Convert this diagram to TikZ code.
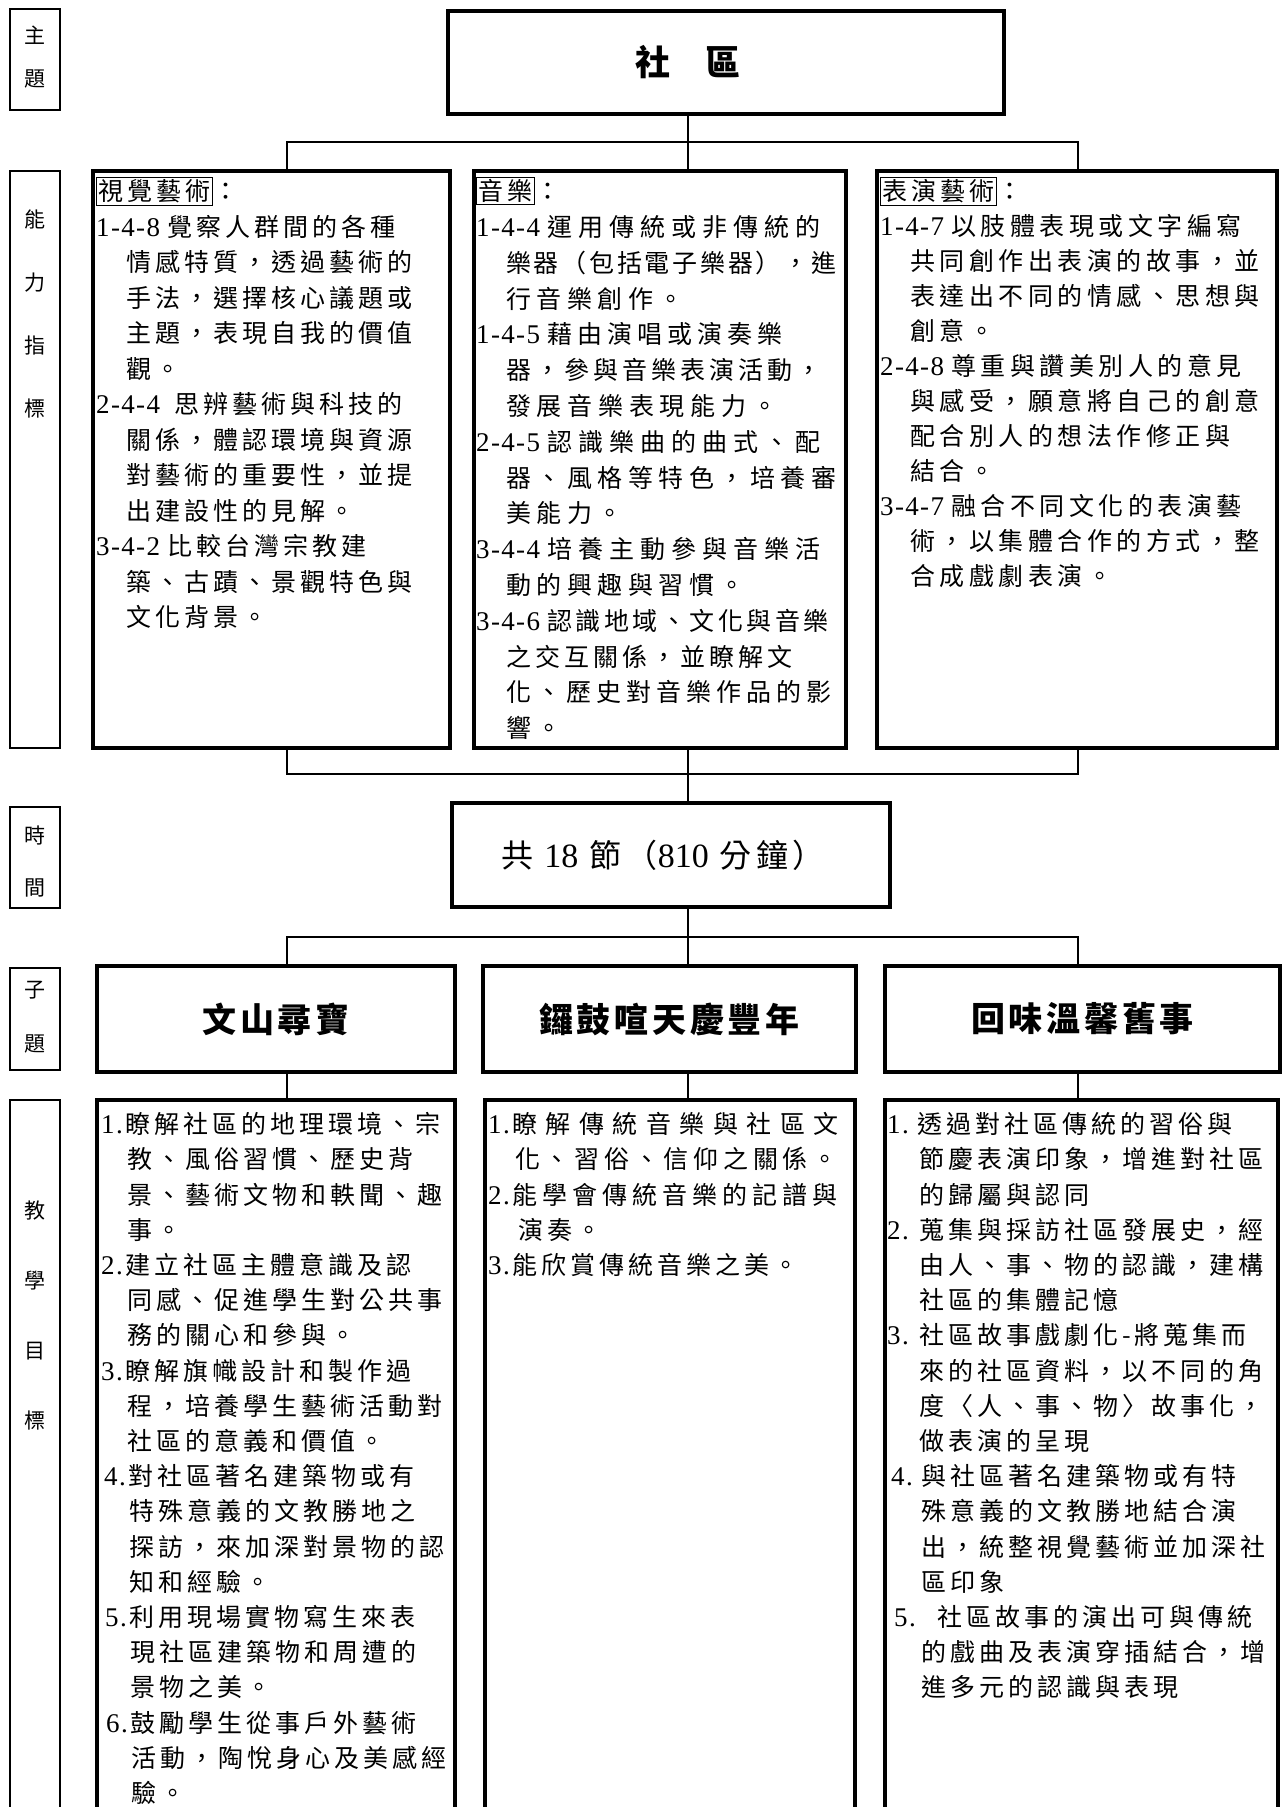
\documentclass[tikz,border=0pt]{standalone}
\usepackage{fontspec}
\usetikzlibrary{fit,calc}
\setmainfont{Liberation Serif}
\newfontfamily\cjk{Noto Sans CJK TC}
\newfontfamily\cjksp[LetterSpace=16]{Noto Sans CJK TC}
\newfontfamily\cjkt[LetterSpace=11]{Noto Sans CJK TC}
\newfontfamily\cjkm[LetterSpace=14]{Noto Sans CJK TC}
\newfontfamily\lat[LetterSpace=5]{Liberation Serif}
\newfontfamily\latn{Liberation Serif}
\newcommand\nm[1]{{\lat\fontsize{27}{30}\selectfont #1}}
\newcommand\nb[2]{\makebox[#1][l]{\nm{#2}}}
\newcommand\fs[1]{\rule{0pt}{#1}}
\newcommand\hdr[1]{{\setlength\fboxsep{1.5pt}\setlength\fboxrule{0.9pt}\fbox{#1}}}
\newcommand\ind[1]{\hspace*{#1pt}}
\newcommand\ls[2]{{\addfontfeature{LetterSpace=#1}#2}}
\tikzset{
  mainbox/.style={draw, line width=3.2pt, inner sep=0pt},
  labbox/.style={draw, line width=1.2pt, inner sep=0pt},
  conn/.style={line width=2.3pt},
  body/.style={anchor=north west, inner sep=0pt, align=left, font={\cjksp\fontsize{25}{#1}\selectfont}},
  labtxt/.style={anchor=north, inner sep=0pt, align=center, font={\cjk\fontsize{21}{#1}\selectfont}},
  subtxt/.style={inner sep=0pt, font={\cjkt\bfseries\fontsize{34}{40}\selectfont}},
}
\begin{document}
\begin{tikzpicture}[x=1pt,y=-1pt]
\useasboundingbox (0,0) rectangle (1286,1807);
\clip (0,0) rectangle (1286,1807);
\fill[white] (0,0) rectangle (1286,1807);

% columns and bars
\coordinate (cL) at (287,0);
\coordinate (cM) at (688,0);
\coordinate (cR) at (1078,0);
\coordinate (bar1) at (0,142);
\coordinate (bar2) at (0,774);
\coordinate (bar3) at (0,937);

% left labels
\node[labbox, fit={(10,9) (60,110)}] (labA) {};
\node[labtxt=43] (labAt) at (35,22) {\fs{21pt}主\\題};
\node[labbox, fit={(10,171) (60,748)}] (labB) {};
\node[labtxt=63] (labBt) at (35,206) {\fs{21pt}能\\力\\指\\標};
\node[labbox, fit={(10,807) (60,908)}] (labC) {};
\node[labtxt=52] (labCt) at (35,822) {\fs{21pt}時\\間};
\node[labbox, fit={(10,968) (60,1070)}] (labD) {};
\node[labtxt=54] (labDt) at (35,976) {\fs{21pt}子\\題};
\node[labbox, fit={(10,1100) (60,1830)}] (labE) {};
\node[labtxt=70] (labEt) at (35,1197) {\fs{21pt}教\\學\\目\\標};

% theme
\node[mainbox, fit={(448,11) (1004,114)}] (root) {};
\node[font={\cjk\bfseries\fontsize{35}{40}\selectfont}] (rootT) at (root.center -| cM) {社\hspace{36pt}區};

% competence boxes
\node[mainbox, fit={(93,171) (450,748)}] (abA) {};
\node[mainbox, fit={(474,171) (846,748)}] (abB) {};
\node[mainbox, fit={(877,171) (1277,748)}] (abC) {};

\node[body=35.5] (txA) at (96,174.5) {\fs{26pt}\hdr{視覺藝術}：\\
\nm{1-4-8}\hspace{7pt}覺察人群間的各種\\
\ind{30}情感特質，透過藝術的\\
\ind{30}手法，選擇核心議題或\\
\ind{30}主題，表現自我的價值\\
\ind{30}觀。\\
\nm{2-4-4}\hspace{14pt}思辨藝術與科技的\\
\ind{30}關係，體認環境與資源\\
\ind{30}對藝術的重要性，並提\\
\ind{30}出建設性的見解。\\
\nm{3-4-2}\hspace{7pt}比較台灣宗教建\\
\ind{30}築、古蹟、景觀特色與\\
\ind{30}文化背景。};

\node[body=35.8] (txB) at (476,174.5) {\fs{26pt}\hdr{音樂}：\\
\nm{1-4-4}\hspace{7pt}\ls{24}{運用傳統或非傳統的}\\
\ind{30}\ls{11}{樂器（包括電子樂器），進}\\
\ind{30}\ls{22}{行音樂創作。}\\
\nm{1-4-5}\hspace{7pt}\ls{20}{藉由演唱或演奏樂}\\
\ind{30}\ls{16}{器，參與音樂表演活動，}\\
\ind{30}\ls{23}{發展音樂表現能力。}\\
\nm{2-4-5}\hspace{7pt}\ls{24}{認識樂曲的曲式、配}\\
\ind{30}\ls{22}{器、風格等特色，培養審}\\
\ind{30}\ls{22}{美能力。}\\
\nm{3-4-4}\hspace{7pt}\ls{24}{培養主動參與音樂活}\\
\ind{30}\ls{22}{動的興趣與習慣。}\\
\nm{3-4-6}\hspace{7pt}\ls{14}{認識地域、文化與音樂}\\
\ind{30}\ls{16}{之交互關係，並瞭解文}\\
\ind{30}\ls{20}{化、歷史對音樂作品的影}\\
\ind{30}\ls{20}{響。}};

\node[body=35] (txC) at (880,174.5) {\fs{26pt}\hdr{表演藝術}：\\
\nm{1-4-7}\hspace{7pt}\ls{18}{以肢體表現或文字編寫}\\
\ind{30}\ls{18}{共同創作出表演的故事，並}\\
\ind{30}\ls{18}{表達出不同的情感、思想與}\\
\ind{30}\ls{18}{創意。}\\
\nm{2-4-8}\hspace{7pt}\ls{18}{尊重與讚美別人的意見}\\
\ind{30}\ls{18}{與感受，願意將自己的創意}\\
\ind{30}\ls{18}{配合別人的想法作修正與}\\
\ind{30}\ls{18}{結合。}\\
\nm{3-4-7}\hspace{7pt}\ls{18}{融合不同文化的表演藝}\\
\ind{30}\ls{18}{術，以集體合作的方式，整}\\
\ind{30}\ls{18}{合成戲劇表演。}};

% time
\node[mainbox, fit={(452,803) (890,907)}] (time) {};
\node[font={\cjkm\fontsize{32}{36}\selectfont}] (timeT) at ([xshift=-8pt]time.center) {共\hspace{11pt}{\latn\fontsize{34}{36}\selectfont 18}\hspace{11pt}節（{\latn\fontsize{34}{36}\selectfont 810}\hspace{11pt}分鐘）};

% subtopics
\node[mainbox, fit={(97,966) (455,1072)}] (stA) {};
\node[mainbox, fit={(483,966) (856,1072)}] (stB) {};
\node[mainbox, fit={(885,966) (1280,1072)}] (stC) {};
\node[subtxt] (stAt) at (stA.center) {文山尋寶};
\node[subtxt] (stBt) at (stB.center) {鑼鼓喧天慶豐年};
\node[subtxt] (stCt) at (stC.center) {回味溫馨舊事};

% goals
\node[mainbox, fit={(97,1100) (455,1830)}] (glA) {};
\node[mainbox, fit={(485,1100) (855,1830)}] (glB) {};
\node[mainbox, fit={(885,1100) (1278,1830)}] (glC) {};

\node[body=35.2] (gtA) at (101,1107.5) {\fs{26pt}\nb{24pt}{1.}瞭解社區的地理環境、宗\\
\ind{26}教、風俗習慣、歷史背\\
\ind{26}景、藝術文物和軼聞、趣\\
\ind{26}事。\\
\nb{24pt}{2.}建立社區主體意識及認\\
\ind{26}同感、促進學生對公共事\\
\ind{26}務的關心和參與。\\
\nb{24pt}{3.}瞭解旗幟設計和製作過\\
\ind{26}程，培養學生藝術活動對\\
\ind{26}社區的意義和價值。\\
\ind{3}\nb{24pt}{4.}對社區著名建築物或有\\
\ind{28}特殊意義的文教勝地之\\
\ind{28}探訪，來加深對景物的認\\
\ind{28}知和經驗。\\
\ind{4}\nb{24pt}{5.}利用現場實物寫生來表\\
\ind{29}現社區建築物和周遭的\\
\ind{29}景物之美。\\
\ind{5}\nb{24pt}{6.}鼓勵學生從事戶外藝術\\
\ind{30}活動，陶悅身心及美感經\\
\ind{30}驗。};

\node[body=35.2] (gtB) at (488,1107.5) {\fs{26pt}\nb{24pt}{1.}\ls{34}{瞭解傳統音樂與社區文}\\
\ind{27}\ls{19}{化、習俗、信仰之關係。}\\
\nb{24pt}{2.}\ls{20}{能學會傳統音樂的記譜與}\\
\ind{30}演奏。\\
\nb{24pt}{3.}能欣賞傳統音樂之美。};

\node[body=35.2] (gtC) at (887,1107.5) {\fs{26pt}\nb{30pt}{1.}透過對社區傳統的習俗與\\
\ind{32}節慶表演印象，增進對社區\\
\ind{32}的歸屬與認同\\
\nb{32pt}{2.}蒐集與採訪社區發展史，經\\
\ind{32}由人、事、物的認識，建構\\
\ind{32}社區的集體記憶\\
\nb{32pt}{3.}社區故事戲劇化-將蒐集而\\
\ind{32}來的社區資料，以不同的角\\
\ind{32}度〈人、事、物〉故事化，\\
\ind{32}做表演的呈現\\
\ind{4}\nb{30pt}{4.}與社區著名建築物或有特\\
\ind{34}殊意義的文教勝地結合演\\
\ind{34}出，統整視覺藝術並加深社\\
\ind{34}區印象\\
\ind{7}\nb{43pt}{5.}社區故事的演出可與傳統\\
\ind{34}的戲曲及表演穿插結合，增\\
\ind{34}進多元的認識與表現};

% connectors
\draw[conn] (root.south -| cM) -- (abB.north -| cM);
\draw[conn] (abA.north -| cL) |- (bar1 -| cR) -- (abC.north -| cR);
\draw[conn] (abA.south -| cL) |- (bar2 -| cR) -- (abC.south -| cR);
\draw[conn] (abB.south -| cM) -- (time.north -| cM);
\draw[conn] (time.south -| cM) -- (stB.north -| cM);
\draw[conn] (stA.north -| cL) |- (bar3 -| cR) -- (stC.north -| cR);
\draw[conn] (stA.south -| cL) -- (glA.north -| cL);
\draw[conn] (stB.south -| cM) -- (glB.north -| cM);
\draw[conn] (stC.south -| cR) -- (glC.north -| cR);
\end{tikzpicture}
\end{document}
